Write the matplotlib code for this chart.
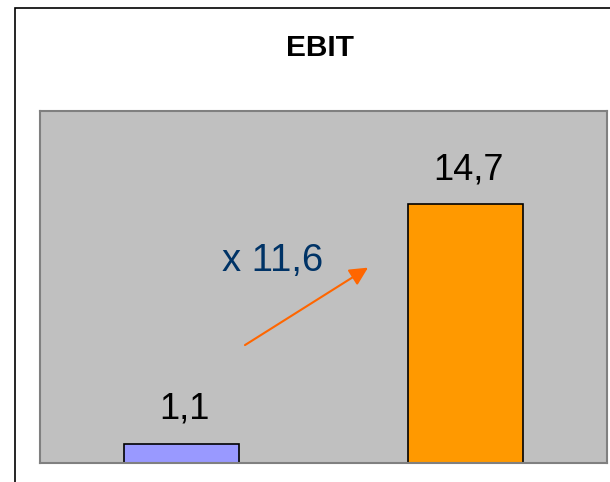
import matplotlib.pyplot as plt
from matplotlib.patches import Rectangle

plt.rcParams['font.family'] = ['Liberation Sans', 'DejaVu Sans']

# EBIT values for the two periods
ebit = [1.1, 14.7]
labels = ['1,1', '14,7']
bar_colors = ['#9999FF', '#FF9900']
growth_text = 'x 11,6'

fig = plt.figure(figsize=(6.10, 4.82), dpi=100)

# outer frame of the slide
fig.patches.append(Rectangle((15 / 610, -0.1), 1.2, 1 - 8 / 482 + 0.1,
                             transform=fig.transFigure, fill=False,
                             edgecolor='black', linewidth=1.2))

ax = fig.add_axes([40 / 610, 1 - 463 / 482, 567 / 610, 352 / 482])
ax.set_facecolor('#C0C0C0')
for s in ax.spines.values():
    s.set_color('#808080')
    s.set_linewidth(1.5)

x = range(len(ebit))
ax.bar(x, ebit, width=0.405, color=bar_colors, edgecolor='black', linewidth=1.2)
ax.set_xlim(-0.5, 1.5)
ax.set_ylim(0, 20)
ax.set_xticks([])
ax.set_yticks([])

for xi, v, lab in zip(x, ebit, labels):
    ax.text(xi + 0.01, v + 1.95, lab, ha='center', va='center', fontsize=26,
            color='black')

# growth arrow between the bars
ax.annotate('', xy=(0.657, 11.1), xytext=(0.223, 6.7),
            arrowprops=dict(arrowstyle='-|>,head_length=1.1,head_width=0.55',
                            color='#FF6600', lw=1.5, shrinkA=0, shrinkB=0))
ax.text(0.322, 11.5, growth_text, ha='center', va='center', fontsize=27.5,
        color='#003366')

fig.text(320 / 610, 1 - 48 / 482, 'EBIT', ha='center', va='center',
         fontsize=21.5, fontweight='bold')

fig.savefig('out.png', dpi=100)
